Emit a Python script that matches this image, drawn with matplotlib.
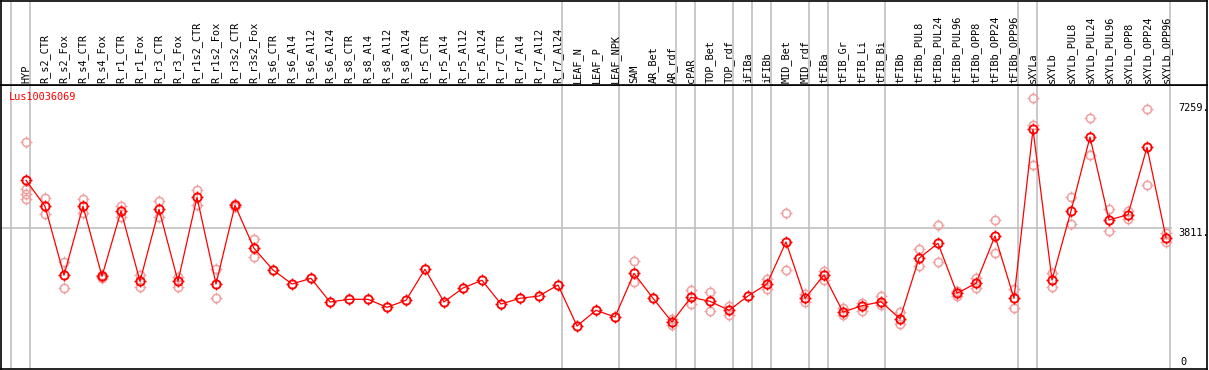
import numpy as np
import matplotlib.pyplot as plt
from matplotlib.path import Path

# sample labels (61 columns)
labels = ["HYP", "R_s2_CTR", "R_s2_Fox", "R_s4_CTR", "R_s4_Fox", "R_r1_CTR", "R_r1_Fox",
          "R_r3_CTR", "R_r3_Fox", "R_r1s2_CTR", "R_r1s2_Fox", "R_r3s2_CTR", "R_r3s2_Fox",
          "R_s6_CTR", "R_s6_Al4", "R_s6_Al12", "R_s6_Al24", "R_s8_CTR", "R_s8_Al4", "R_s8_Al12",
          "R_s8_Al24", "R_r5_CTR", "R_r5_Al4", "R_r5_Al12", "R_r5_Al24", "R_r7_CTR", "R_r7_Al4",
          "R_r7_Al12", "R_r7_Al24", "LEAF_N", "LEAF_P", "LEAF_NPK", "SAM", "AR_Bet", "AR_rdf",
          "cPAR", "TOP_Bet", "TOP_rdf", "iFIBa", "iFIBb", "MID_Bet", "MID_rdf", "tFIBa",
          "tFIB_Gr", "tFIB_Li", "tFIB_Bi", "tFIBb", "tFIBb_PUL8", "tFIBb_PUL24", "tFIBb_PUL96",
          "tFIBb_OPP8", "tFIBb_OPP24", "tFIBb_OPP96", "sXYLa", "sXYLb", "sXYLb_PUL8",
          "sXYLb_PUL24", "sXYLb_PUL96", "sXYLb_OPP8", "sXYLb_OPP24", "sXYLb_OPP96"]

# mean expression per sample
means = [5129, 4411, 2505, 4411, 2478, 4281, 2339, 4328, 2339, 4659, 2265, 4439, 3251,
         2652, 2265, 2422, 1768, 1842, 1842, 1621, 1815, 2671, 1768, 2154, 2367, 1712, 1870,
         1933, 2237, 1105, 1538, 1353, 2560, 1870, 1215, 1897, 1787, 1538, 1933, 2265, 3425,
         1870, 2513, 1491, 1665, 1776, 1306, 2975, 3389, 2008, 2284, 3591, 1870, 6538, 2375,
         4281, 6325, 4033, 4179, 6040, 3544]

# replicate values
reps = [[6179, 4889, 4751, 4613], [4632, 4190], [2864, 2146], [4613, 4226], [2522, 2431],
        [4427, 4107], [2505, 2190], [4557, 4107], [2466, 2190], [4861, 4439], [2679, 1870],
        [4474, 4378], [3508, 3002], [], [], [], [], [], [], [], [], [], [], [], [], [], [],
        [], [], [], [], [], [2900, 2320], [], [1290, 1141], [2091, 1704], [2036, 1511],
        [1665, 1409], [], [2411, 2135], [4218, 2643], [1980, 1776], [2632, 2367], [1610, 1400],
        [1732, 1527], [1933, 1677], [1500, 1152], [3223, 2754], [3886, 2872], [2080, 1942],
        [2439, 2146], [4024, 3113], [2118, 1594], [7394, 6665, 5543], [2560, 2190],
        [4659, 3914], [6841, 5820], [4328, 3737], [4289, 4068], [7098, 4999], [3665, 3417]]

# group separators sit just right of these columns
separators = [-1, 0, 28, 31, 34, 35, 37, 38, 39, 41, 42, 45, 52, 53, 60]
gene = "Lus10036069"
y_ticks = [7259, 3811, 0]

x = np.arange(len(labels))
mono = "DejaVu Sans Mono"
grey = "#c0c0c0"

fig = plt.figure(figsize=(12.09, 3.70), dpi=100)
W, H = 1209, 370
ax = fig.add_axes([1 / W, 1 / H, 1206 / W, 284 / H])
hd = fig.add_axes([1 / W, 285 / H, 1206 / W, 84 / H], sharex=ax)

xlim = ((1 - 26) / 19, (1207 - 26) / 19)
ax.set_xlim(*xlim)
ax.set_ylim(-83, 7761)
hd.set_ylim(0, 1)

for a in (ax, hd):
    a.set_xticks([])
    a.set_yticks([])
    for s in a.spines.values():
        s.set_color("black")
        s.set_linewidth(1.2)
    for sp in separators:
        a.axvline(sp + 4 / 19, color=grey, lw=1.2, zorder=0)

ax.hlines(3811, xlim[0], 60 + 6 / 19, color=grey, lw=1.2, zorder=0)

# tick-mark marker like the original circles
tick_path = Path([(0, 0.7), (0, 1.3), (0, -0.7), (0, -1.3), (0.7, 0), (1.3, 0), (-0.7, 0), (-1.3, 0)],
                 [Path.MOVETO, Path.LINETO] * 4)

for i, r in enumerate(reps):
    if r:
        ax.plot([i] * len(r), r, "o", ms=6, mfc="none", mec="#f0a0a0", mew=1.1, zorder=2)
        ax.plot([i] * len(r), r, ls="none", marker=tick_path, ms=8, mec="#f0a0a0", mew=0.9, zorder=2)

ax.plot(x, means, "-", color="red", lw=0.9, zorder=3)
ax.plot(x, means, "o", ms=6, mfc="none", mec="red", mew=1.3, zorder=4)
ax.plot(x, means, ls="none", marker=tick_path, ms=8, mec="red", mew=1.0, zorder=4)

ax.text((9 - 26) / 19, 7430, gene, color="red", fontsize=7.4, family=mono, va="center", ha="left")

for v in y_ticks:
    txt = f"{v}." if v else "0"
    off = -4.5 * 27.6 if v else 4 * 27.6
    xx = (1178 - 26) / 19 if v else (1180 - 26) / 19
    ax.text(xx, v + off, txt, fontsize=7.4, family=mono, va="center", ha="left")

for i, lab in enumerate(labels):
    hd.text(i, 0.025, lab, rotation=90, fontsize=7.4, family=mono, ha="center", va="bottom")

fig.savefig("out.png", dpi=100)
